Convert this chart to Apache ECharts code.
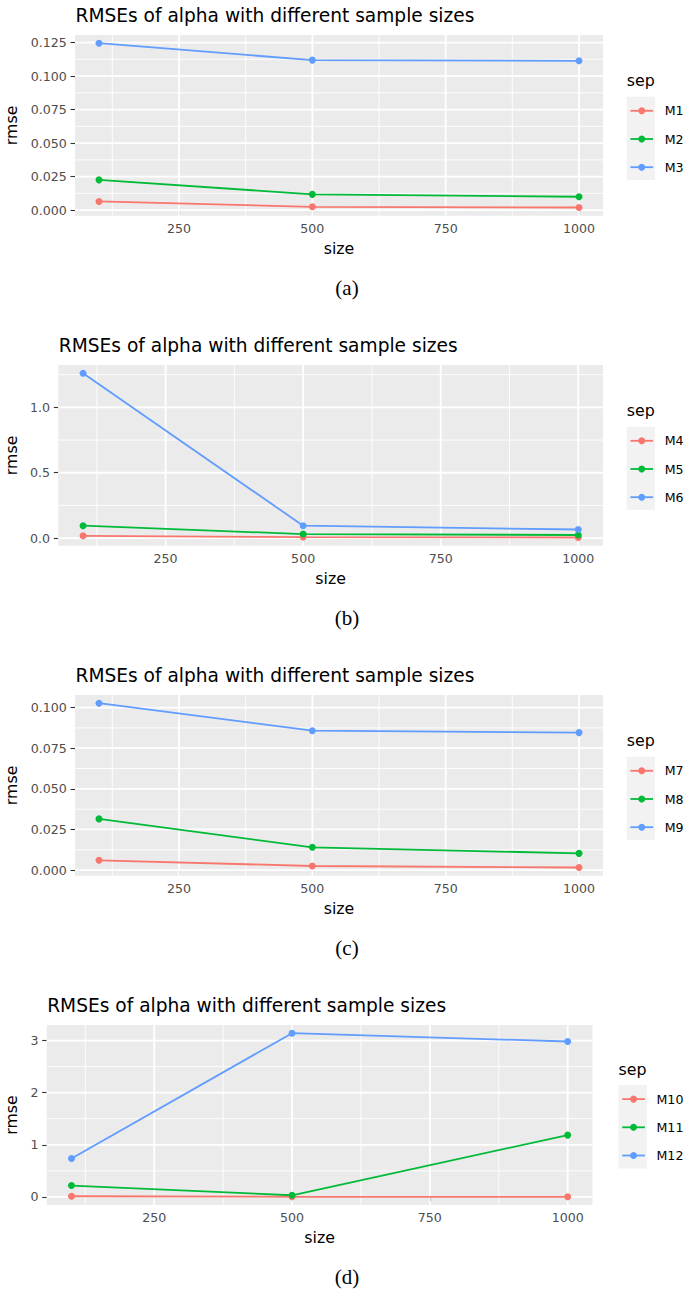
<!DOCTYPE html>
<html><head><meta charset="utf-8">
<script src="https://cdn.jsdelivr.net/npm/echarts@6/dist/echarts.min.js"></script>
<style>html,body{margin:0;padding:0;background:#fff}#c{width:687px;height:1295px}</style>
</head><body><div id="c"></div>
<script>
// ---------- data ----------
const sizes = [100, 500, 1000];
const xTicks = [250, 500, 750, 1000];
const chartTitle = 'RMSEs of alpha with different sample sizes';
const captions = ['(a)', '(b)', '(c)', '(d)'];
const legendTitle = 'sep';
const xName = 'size';
const yName = 'rmse';

const M1 = [0.0065, 0.0025, 0.0020];
const M2 = [0.0226, 0.0118, 0.0100];
const M3 = [0.1245, 0.1119, 0.1114];
const yTicksA = [0, 0.025, 0.05, 0.075, 0.1, 0.125];

const M4 = [0.018, 0.008, 0.005];
const M5 = [0.095, 0.031, 0.024];
const M6 = [1.261, 0.095, 0.066];
const yTicksB = [0, 0.5, 1.0];

const M7 = [0.0060, 0.0025, 0.0016];
const M8 = [0.0315, 0.0140, 0.0103];
const M9 = [0.1027, 0.0858, 0.0846];
const yTicksC = [0, 0.025, 0.05, 0.075, 0.1];

const M10 = [0.013, 0.003, 0.002];
const M11 = [0.218, 0.032, 1.186];
const M12 = [0.737, 3.141, 2.981];
const yTicksD = [0, 1, 2, 3];

// ---------- layout ----------
const FONT = "'DejaVu Sans', sans-serif";
const COLORS = ['#F8766D', '#00BA38', '#619CFF'];
const panels = [
  {names: ['M1', 'M2', 'M3'], values: [M1, M2, M3], yTicks: yTicksA, dec: 3,
   left: 75, right: 603, top: 35, bottom: 215.7, boxLeft: 626.7, boxTop: 96.7},
  {names: ['M4', 'M5', 'M6'], values: [M4, M5, M6], yTicks: yTicksB, dec: 1,
   left: 58.3, right: 603, top: 365, bottom: 545.7, boxLeft: 626.7, boxTop: 426.7},
  {names: ['M7', 'M8', 'M9'], values: [M7, M8, M9], yTicks: yTicksC, dec: 3,
   left: 75, right: 603, top: 695, bottom: 875.7, boxLeft: 626.7, boxTop: 756.7},
  {names: ['M10', 'M11', 'M12'], values: [M10, M11, M12], yTicks: yTicksD, dec: 0,
   left: 46.7, right: 592.5, top: 1025, bottom: 1205, boxLeft: 618.5, boxTop: 1085}
];
const KEY = 27.8;

function expand(lo, hi) { const p = (hi - lo) * 0.05; return [lo - p, hi + p]; }
function minors(ticks, lo, hi) {
  const step = ticks[1] - ticks[0], out = [];
  for (let k = 0; k <= ticks.length; k++) {
    const m = ticks[0] + (k - 0.5) * step;
    if (m > lo && m < hi) out.push(m);
  }
  return out;
}
const xr = expand(Math.min(...sizes), Math.max(...sizes));

function vGrid(params, api) {
  const cs = params.coordSys;
  const x = api.coord([api.value(0), 0])[0];
  return {type: 'line', silent: true, shape: {x1: x, y1: cs.y, x2: x, y2: cs.y + cs.height},
    style: {stroke: '#FFFFFF', lineWidth: api.value(1) ? 1.8 : 0.9}};
}
function hGrid(params, api) {
  const cs = params.coordSys;
  const y = api.coord([xr[0], api.value(0)])[1];
  return {type: 'line', silent: true, shape: {x1: cs.x, y1: y, x2: cs.x + cs.width, y2: y},
    style: {stroke: '#FFFFFF', lineWidth: api.value(1) ? 1.8 : 0.9}};
}

const option = {animation: false, backgroundColor: '#FFFFFF',
  grid: [], xAxis: [], yAxis: [], series: [], title: [], legend: [], graphic: []};

panels.forEach((p, i) => {
  const all = [].concat(...p.values);
  const yr = expand(Math.min(...all), Math.max(...all));
  option.grid.push({left: p.left, top: p.top, width: p.right - p.left, height: p.bottom - p.top,
    show: true, backgroundColor: '#EBEBEB', borderWidth: 0, containLabel: false, outerBoundsMode: 'none'});
  option.xAxis.push({type: 'value', gridIndex: i, min: xr[0], max: xr[1],
    axisLine: {show: false}, splitLine: {show: false},
    axisTick: {show: true, customValues: xTicks, length: 4.5, lineStyle: {color: '#333333', width: 1.1}},
    axisLabel: {customValues: xTicks, color: '#4D4D4D', fontSize: 12.6, fontFamily: FONT, margin: 6,
      formatter: v => String(v)},
    name: xName, nameLocation: 'middle', nameGap: 24.6,
    nameTextStyle: {color: '#000000', fontSize: 15.8, fontFamily: FONT}});
  option.yAxis.push({type: 'value', gridIndex: i, min: yr[0], max: yr[1],
    axisLine: {show: false}, splitLine: {show: false},
    axisTick: {show: true, customValues: p.yTicks, length: 4.5, lineStyle: {color: '#333333', width: 1.1}},
    axisLabel: {customValues: p.yTicks, color: '#4D4D4D', fontSize: 12.6, fontFamily: FONT, margin: 8.3,
      formatter: v => Number(v).toFixed(p.dec)},
    name: yName, nameLocation: 'middle', nameGap: p.left - 26,
    nameTextStyle: {color: '#000000', fontSize: 15.8, fontFamily: FONT}});
  const vData = xTicks.map(v => [v, 1]).concat(minors(xTicks, xr[0], xr[1]).map(v => [v, 0]));
  const hData = p.yTicks.map(v => [v, 1]).concat(minors(p.yTicks, yr[0], yr[1]).map(v => [v, 0]));
  option.series.push({type: 'custom', name: 'gv' + i, xAxisIndex: i, yAxisIndex: i, z: 1,
    silent: true, renderItem: vGrid, data: vData});
  option.series.push({type: 'custom', name: 'gh' + i, xAxisIndex: i, yAxisIndex: i, z: 1,
    silent: true, renderItem: hGrid, data: hData});
  p.names.forEach((nm, k) => {
    option.series.push({type: 'line', name: nm, xAxisIndex: i, yAxisIndex: i, z: 3,
      data: sizes.map((s, j) => [s, p.values[k][j]]),
      symbol: 'circle', symbolSize: 7, showSymbol: true,
      color: COLORS[k], lineStyle: {width: 1.8, color: COLORS[k]}, itemStyle: {color: COLORS[k]}});
  });
  // titles
  option.title.push({text: chartTitle, left: p.left + 0.5, top: p.top - 19.3 - 9.3, padding: 0,
    textStyle: {fontSize: 18.6, fontWeight: 'normal', color: '#000000', fontFamily: FONT}});
  option.title.push({text: legendTitle, left: p.boxLeft, top: p.boxTop - 16 - 8, padding: 0,
    textStyle: {fontSize: 15.8, fontWeight: 'normal', color: '#000000', fontFamily: FONT}});
  option.title.push({text: captions[i], left: 347, textAlign: 'center', top: p.bottom + 72 - 10.5, padding: 0,
    textStyle: {fontSize: 21, fontWeight: 'normal', color: '#000000', fontFamily: "'Liberation Serif', serif"}});
  // legend key background
  option.graphic.push({type: 'rect', shape: {x: p.boxLeft, y: p.boxTop, width: 28.3, height: KEY * 3},
    style: {fill: '#F2F2F2'}, silent: true, z: -1});
  option.legend.push({orient: 'vertical', left: p.boxLeft + 2.8, top: p.boxTop + KEY / 2 - 6.3, padding: 0,
    itemWidth: 22.7, itemHeight: 8.75, itemGap: KEY - 12.6, data: p.names, selectedMode: false,
    lineStyle: {width: 1.8},
    textStyle: {fontSize: 12.6, color: '#000000', fontFamily: FONT, padding: [0, 0, 0, 6.6]}});
});

const chart = echarts.init(document.getElementById('c'), null, {renderer: 'svg', width: 687, height: 1295});
chart.setOption(option);
</script>
</body></html>
